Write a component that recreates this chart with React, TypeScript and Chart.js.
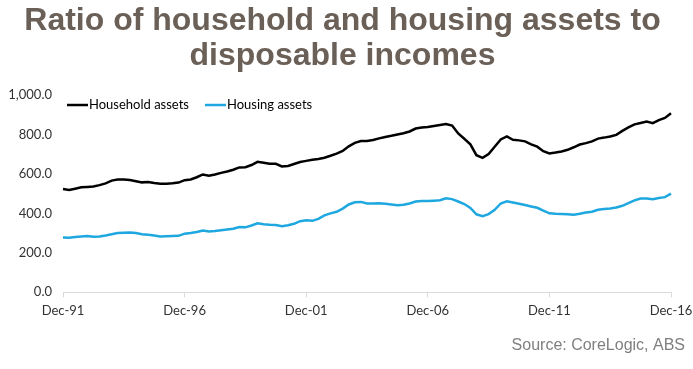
import React, { useEffect, useRef } from "react";
import { Chart, registerables } from "chart.js";

Chart.register(...registerables);

const TITLE_LINES = ["Ratio of household and housing assets to", "disposable incomes"];
const SOURCE_TEXT = "Source: CoreLogic, ABS";
const SERIES_NAMES = ["Household assets", "Housing assets"];
const TICK_LABELS = ["Dec-91", "Dec-96", "Dec-01", "Dec-06", "Dec-11", "Dec-16"];
const Y_TICKS = [0, 200, 400, 600, 800, 1000];

// quarterly categories Dec-91 .. Dec-16
const MONTHS = ["Dec", "Mar", "Jun", "Sep"];
const QUARTERS: string[] = Array.from({ length: 101 }, (_, i) => {
  const yr = 1991 + Math.ceil(i / 4);
  return `${MONTHS[i % 4]}-${String(yr % 100).padStart(2, "0")}`;
});

const HOUSEHOLD = [
  523, 518, 525, 532, 534, 536, 543, 552, 566, 571,
  572, 569, 563, 557, 559, 554, 550, 550, 552, 556,
  568, 572, 583, 597, 591, 597, 605, 612, 621, 633,
  634, 645, 661, 657, 652, 651, 638, 640, 650, 660,
  666, 672, 676, 682, 692, 703, 716, 740, 757, 767,
  767, 772, 780, 787, 793, 800, 806, 815, 830, 835,
  838, 843, 848, 853, 845, 805, 778, 750, 695, 681,
  701, 738, 775, 790, 773, 770, 765, 750, 738, 715,
  704, 708, 714, 722, 735, 749, 756, 765, 779, 784,
  790, 798, 818, 836, 851, 858, 865, 857, 873, 884,
  907,
];

const HOUSING = [
  278, 276, 280, 283, 285, 281, 283, 288, 294, 300,
  302, 303, 300, 294, 291, 288, 283, 284, 285, 286,
  297, 300, 305, 313, 308, 310, 314, 318, 322, 330,
  329, 338, 349, 345, 342, 341, 335, 340, 347, 360,
  365, 362, 372, 390, 400, 408, 424, 445, 456, 458,
  450, 450, 451, 448, 445, 441, 444, 450, 460, 462,
  462, 464, 466, 476, 472, 460, 447, 427, 395, 386,
  396, 418, 450, 461, 455, 449, 442, 435, 428, 414,
  400, 398, 397, 395, 393, 398, 404, 408, 418, 422,
  425, 430, 438, 452, 466, 475, 475, 471, 478, 482,
  500,
];

const COLORS = ["#000000", "#1fa8e0"];
const TICK_FONT = "Lato, 'Open Sans', sans-serif";

const legendPlugin = {
  id: "inlineLegend",
  afterDraw(chart: any) {
    const ctx = chart.ctx;
    const y = chart.chartArea.top + 10;
    let x = chart.chartArea.left + 4;
    ctx.save();
    ctx.font = `13px ${TICK_FONT}`;
    ctx.textBaseline = "middle";
    ctx.textAlign = "left";
    chart.data.datasets.forEach((ds: any) => {
      ctx.strokeStyle = ds.borderColor;
      ctx.lineWidth = 2.5;
      ctx.beginPath();
      ctx.moveTo(x, y);
      ctx.lineTo(x + 21, y);
      ctx.stroke();
      x += 22;
      ctx.fillStyle = "#000";
      ctx.fillText(ds.label, x, y);
      x += ctx.measureText(ds.label).width + 16;
    });
    ctx.restore();
  },
};

export default function App() {
  const ref = useRef<HTMLCanvasElement | null>(null);

  useEffect(() => {
    if (!ref.current) return;
    const chart = new Chart(ref.current, {
      type: "line",
      data: {
        labels: QUARTERS,
        datasets: [
          {
            label: SERIES_NAMES[0],
            data: HOUSEHOLD,
            borderColor: COLORS[0],
            backgroundColor: COLORS[0],
            borderWidth: 2.5,
            pointRadius: 0,
            tension: 0,
          },
          {
            label: SERIES_NAMES[1],
            data: HOUSING,
            borderColor: COLORS[1],
            backgroundColor: COLORS[1],
            borderWidth: 2.5,
            pointRadius: 0,
            tension: 0,
          },
        ],
      },
      options: {
        responsive: false,
        animation: false,
        layout: { padding: { left: 0, right: 8, top: 0, bottom: 14 } },
        plugins: {
          legend: { display: false },
          tooltip: { enabled: false },
          title: {
            display: true,
            text: TITLE_LINES,
            color: "#6b6058",
            font: { family: "'Liberation Sans', Arial, sans-serif", size: 32, weight: "bold", lineHeight: 1.094 },
            padding: { top: 4, bottom: 21 },
          },
          subtitle: {
            display: true,
            text: SOURCE_TEXT,
            position: "bottom",
            align: "end",
            color: "#7f7f7f",
            font: { family: "'Liberation Sans', Arial, sans-serif", size: 16, lineHeight: 1.2 },
            padding: { top: 11, bottom: 0 },
          },
        },
        scales: {
          x: {
            type: "category",
            offset: false,
            grid: {
              display: true,
              drawOnChartArea: false,
              drawTicks: true,
              tickLength: 5,
              color: "#d9d9d9",
            },
            border: { display: true, color: "#d9d9d9", width: 1 },
            ticks: {
              autoSkip: false,
              maxRotation: 0,
              minRotation: 0,
              padding: 6,
              color: "#333",
              font: { family: TICK_FONT, size: 13 },
              callback: function (this: any, val: any, idx: number) {
                const lbl = QUARTERS[idx];
                return TICK_LABELS.includes(lbl) ? lbl : null;
              },
            },
            afterFit: (scale: any) => {
              scale.paddingLeft = 0;
              scale.paddingRight = 22;
            },
          },
          y: {
            min: Y_TICKS[0],
            max: Y_TICKS[Y_TICKS.length - 1],
            grid: { display: false, drawTicks: false },
            border: { display: false },
            ticks: {
              stepSize: 200,
              padding: 11,
              color: "#333",
              font: { family: TICK_FONT, size: 13 },
              callback: (v: any) =>
                Number(v).toLocaleString("en-US", { minimumFractionDigits: 1, maximumFractionDigits: 1 }),
            },
            afterFit: (scale: any) => {
              scale.width = 63;
            },
          },
        },
      },
      plugins: [legendPlugin],
    });
    return () => chart.destroy();
  }, []);

  return (
    <div style={{ position: "fixed", left: 0, top: 0, width: 693, height: 369, background: "#fff" }}>
      <canvas ref={ref} width={693} height={369} style={{ display: "block" }} />
    </div>
  );
}
